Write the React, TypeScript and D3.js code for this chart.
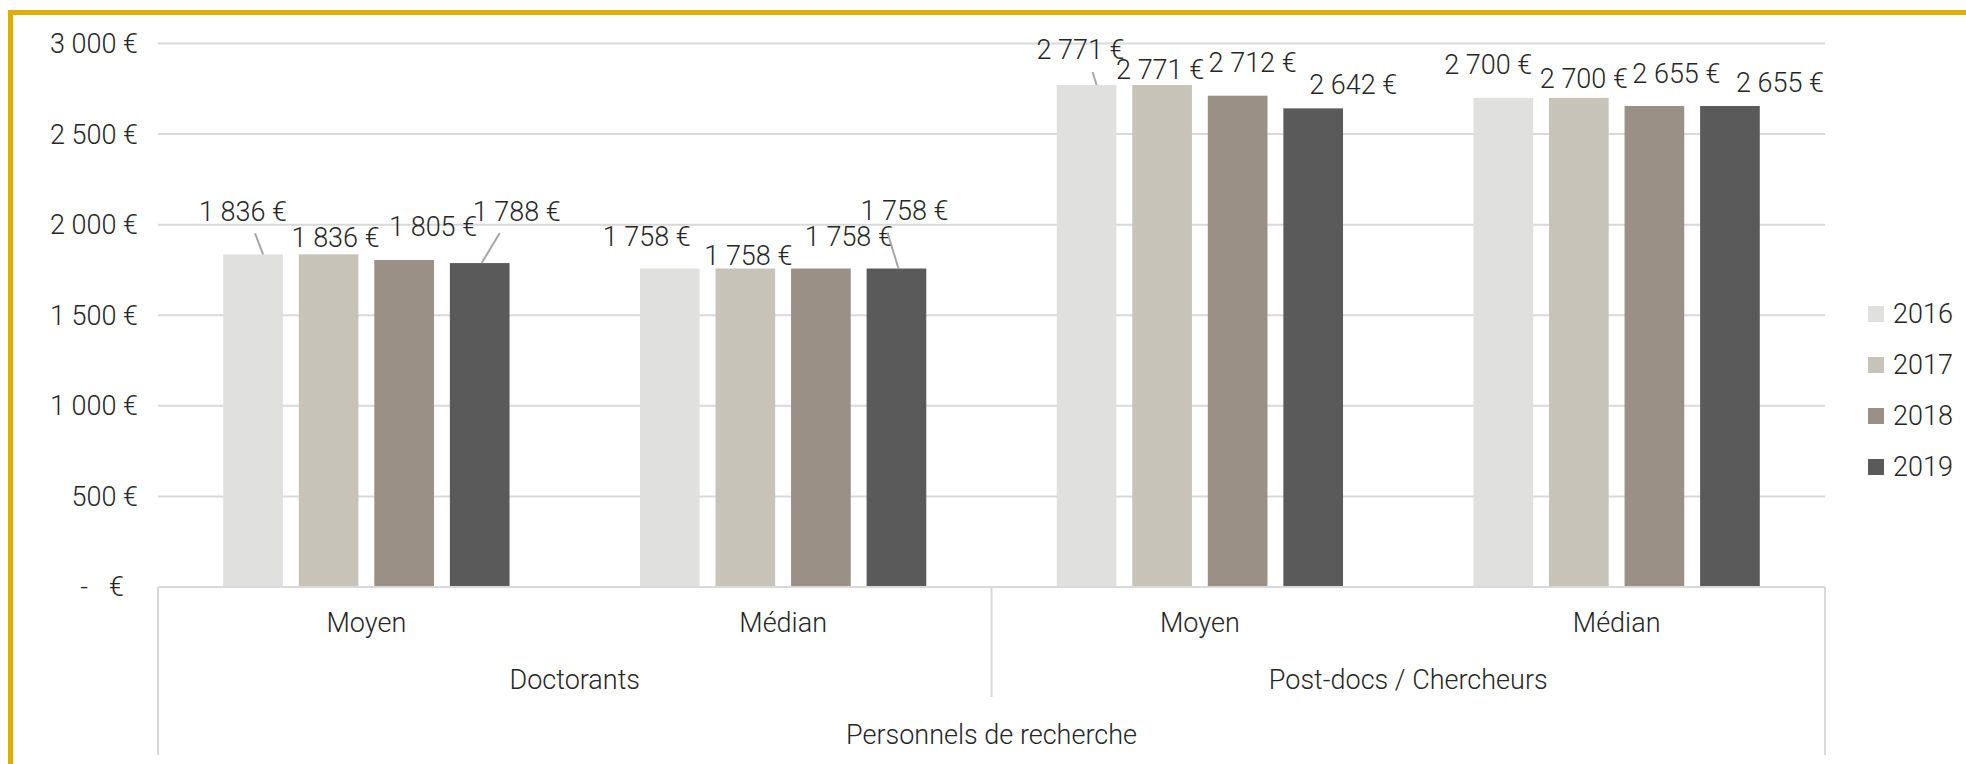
import React from "react";
import * as d3 from "d3";

const years = ["2016", "2017", "2018", "2019"];
const colors = ["#E0E0DE", "#C7C3B8", "#9A9085", "#5A5A5A"];
const groups = ["Doctorants", "Post-docs / Chercheurs"];
const subCats = ["Moyen", "Médian"];
const topLabel = "Personnels de recherche";
// values per category (Doctorants Moyen, Doctorants Médian, Post-docs Moyen, Post-docs Médian), per year
const values2016 = [1836, 1758, 2771, 2700];
const values2017 = [1836, 1758, 2771, 2700];
const values2018 = [1805, 1758, 2712, 2655];
const values2019 = [1788, 1758, 2642, 2655];
const yTicks = [0, 500, 1000, 1500, 2000, 2500, 3000];

// label placement offsets (layout): [dx, dy] relative to bar top-center, per category, per year
const labelOffsets = [
  [[-10, -43], [7, -17], [29, -33], [37, -52]],
  [[-23, -32], [3, -13], [28, -32], [8, -58]],
  [[-6, -35], [-2, -15], [15, -33], [40, -24]],
  [[-15, -33], [5, -19], [22, -32], [50, -23]],
];
const leaders: Record<string, boolean> = { "0-0": true, "0-3": true, "1-3": true, "2-0": true };

const fmt = (v: number) => {
  const s = d3.format(",")(v).replace(/,/g, " ");
  return s + " €";
};

export default function App() {
  const W = 1966, H = 764;
  const left = 158, right = 1825, top = 43.5, base = 587;
  const series = [values2016, values2017, values2018, values2019];
  const cats = [0, 1, 2, 3];
  const x0 = d3.scaleBand<number>().domain(cats).range([left, right]).paddingInner(0).paddingOuter(0);
  const groupW = 0.687 * x0.bandwidth();
  const x1 = d3.scaleBand<number>().domain([0, 1, 2, 3]).range([0, groupW]).paddingInner(0.21).paddingOuter(0);
  const y = d3.scaleLinear().domain([0, 3000]).range([base, top]);
  const font = "Roboto, 'Open Sans', sans-serif";
  const fs = 27;
  const textColor = "#262626";
  const grid = "#D9D9D9";

  const barX = (c: number, s: number) => x0(c)! + (x0.bandwidth() - groupW) / 2 + x1(s)!;

  return (
    <svg width={W} height={H} style={{ position: "absolute", left: 0, top: 0 }} fontFamily={font} fontWeight={300}>
      <rect x={0} y={0} width={W} height={H} fill="#fff" />
      <rect x={10.5} y={12.5} width={2100} height={900} fill="none" stroke="#DEAE00" strokeWidth={5} />
      {yTicks.map((t) => (
        <g key={t}>
          {t > 0 && <line x1={left} x2={right} y1={y(t)} y2={y(t)} stroke={grid} strokeWidth={2} />}
          {t > 0 ? (
            <text x={138} y={y(t)} dy="0.35em" textAnchor="end" fontSize={fs} fill={textColor}>
              {fmt(t)}
            </text>
          ) : (
            <g>
              <text x={84} y={y(t)} dy="0.35em" textAnchor="middle" fontSize={fs} fill={textColor}>-</text>
              <text x={124} y={y(t)} dy="0.35em" textAnchor="end" fontSize={fs} fill={textColor}>€</text>
            </g>
          )}
        </g>
      ))}
      {series.map((vals, s) =>
        vals.map((v, c) => (
          <rect key={`${s}-${c}`} x={barX(c, s)} y={y(v)} width={x1.bandwidth()} height={base - y(v)} fill={colors[s]} />
        ))
      )}
      {/* axis lines */}
      <line x1={left} x2={right} y1={base} y2={base} stroke={grid} strokeWidth={2} />
      <line x1={left} x2={left} y1={base} y2={755} stroke={grid} strokeWidth={2} />
      <line x1={right} x2={right} y1={base} y2={755} stroke={grid} strokeWidth={2} />
      <line x1={(left + right) / 2} x2={(left + right) / 2} y1={base} y2={697} stroke={grid} strokeWidth={2} />
      {/* data labels */}
      {series.map((vals, s) =>
        vals.map((v, c) => {
          const cx = barX(c, s) + x1.bandwidth() / 2;
          const ty = y(v);
          const [dx, dy] = labelOffsets[c][s];
          const lx = cx + dx, ly = ty + dy;
          const hasLeader = leaders[`${c}-${s}`];
          let leader = null;
          if (hasLeader) {
            const lyb = ly + 14;
            leader = <line x1={cx + (dx > 0 ? 2 : 10)} y1={ty} x2={lx + (dx > 0 ? -17 : 12)} y2={lyb + 8} stroke="#A6A6A6" strokeWidth={2} />;
          }
          return (
            <g key={`l${s}-${c}`}>
              {leader}
              <text x={lx} y={ly} dy="0.35em" textAnchor="middle" fontSize={fs} fill={textColor}>
                {fmt(v)}
              </text>
            </g>
          );
        })
      )}
      {/* category labels */}
      {cats.map((c) => (
        <text key={c} x={x0(c)! + x0.bandwidth() / 2} y={623} dy="0.35em" textAnchor="middle" fontSize={fs} fill={textColor}>
          {subCats[c % 2]}
        </text>
      ))}
      {groups.map((g, i) => (
        <text key={g} x={x0(i * 2)! + x0.bandwidth()} y={680} dy="0.35em" textAnchor="middle" fontSize={fs} fill={textColor}>
          {g}
        </text>
      ))}
      <text x={(left + right) / 2} y={735} dy="0.35em" textAnchor="middle" fontSize={fs} fill={textColor}>
        {topLabel}
      </text>
      {/* legend */}
      {years.map((yr, i) => (
        <g key={yr} transform={`translate(1868, ${314 + i * 51})`}>
          <rect x={0} y={-8} width={16} height={16} fill={colors[i]} />
          <text x={25} y={0} dy="0.35em" fontSize={fs} fill={textColor}>
            {yr}
          </text>
        </g>
      ))}
    </svg>
  );
}
